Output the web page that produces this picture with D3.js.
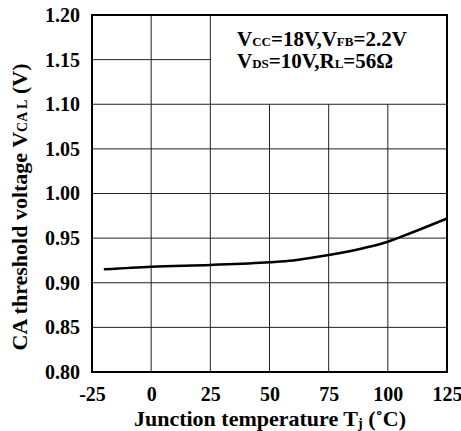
<!DOCTYPE html>
<html><head><meta charset="utf-8">
<script src="https://cdn.jsdelivr.net/npm/d3@7"></script>
<style>body{margin:0;background:#fff}svg text{font-family:"Liberation Serif","Times New Roman",serif;font-weight:bold;fill:#000}</style>
</head><body><svg id="c" width="461" height="431"></svg>
<script>
const temps = [-20, 0, 25, 50, 60, 75, 90, 100, 110, 125];
const vcal  = [0.915, 0.918, 0.920, 0.923, 0.925, 0.931, 0.939, 0.946, 0.956, 0.972];
const xTicks = [-25, 0, 25, 50, 75, 100, 125];
const yTicks = [0.80, 0.85, 0.90, 0.95, 1.00, 1.05, 1.10, 1.15, 1.20];

const svg = d3.select("#c");
const L = 92, R = 447, T = 15, B = 372;
const x = d3.scaleLinear().domain([-25, 125]).range([L, R]);
const y = d3.scaleLinear().domain([0.80, 1.20]).range([B, T]);

// grid (legend box region free of grid lines)
const g = svg.append("g").attr("stroke", "#222").attr("stroke-width", 1);
xTicks.slice(1, -1).forEach(t => {
  const top = t > 25 ? y(1.10) : T;
  g.append("line").attr("x1", x(t)).attr("x2", x(t)).attr("y1", top).attr("y2", B);
});
yTicks.slice(1, -1).forEach(v => {
  const right = v > 1.10 + 1e-9 ? x(25) : R;
  g.append("line").attr("x1", L).attr("x2", right).attr("y1", y(v)).attr("y2", y(v));
});
svg.append("rect").attr("x", L).attr("y", T).attr("width", R - L).attr("height", B - T)
  .attr("fill", "none").attr("stroke", "#000").attr("stroke-width", 2);

// axes labels via d3 axes
const xa = svg.append("g").attr("transform", `translate(0,${B})`)
  .call(d3.axisBottom(x).tickValues(xTicks).tickSize(0).tickPadding(15).tickFormat(d => String(d)));
xa.select(".domain").remove();
xa.selectAll("text").attr("font-size", 20).attr("font-family", "Liberation Serif").attr("font-weight", "bold");
const ya = svg.append("g").attr("transform", `translate(${L},0)`)
  .call(d3.axisLeft(y).tickValues(yTicks).tickSize(0).tickPadding(12).tickFormat(d3.format(".2f")));
ya.select(".domain").remove();
ya.selectAll("text").attr("font-size", 20).attr("font-family", "Liberation Serif").attr("font-weight", "bold");

// curve
const line = d3.line().x((d, i) => x(temps[i])).y(d => y(d)).curve(d3.curveMonotoneX);
svg.append("path").datum(vcal).attr("d", line).attr("fill", "none")
  .attr("stroke", "#000").attr("stroke-width", 2.5);

// legend text
function rich(sel, parts) {
  parts.forEach(p => {
    const ts = sel.append("tspan").text(p[0]);
    if (p[1]) ts.attr("font-size", p[1]);
    if (p[2]) ts.attr("dy", p[2]);
  });
}
const lg = svg.append("text").attr("x", 237).attr("y", 46).attr("font-size", 21);
rich(lg, [["V"], ["CC", 13], ["=18V,V"], ["FB", 13], ["=2.2V"]]);
const lg2 = svg.append("text").attr("x", 237).attr("y", 68).attr("font-size", 21);
rich(lg2, [["V"], ["DS", 13], ["=10V,R"], ["L", 13], ["=56Ω"]]);

// axis titles
const xt = svg.append("text").attr("x", 270).attr("y", 426).attr("text-anchor", "middle").attr("font-size", 22);
rich(xt, [["Junction temperature T"], ["j", 14, 2], [" (", null, -2], ["˚", 22], ["C)"]]);
const yt = svg.append("text").attr("transform", "translate(27,207) rotate(-90)")
  .attr("text-anchor", "middle").attr("font-size", 22);
rich(yt, [["CA threshold voltage V"], ["CA L", 14], [" (V)"]]);
</script></body></html>
